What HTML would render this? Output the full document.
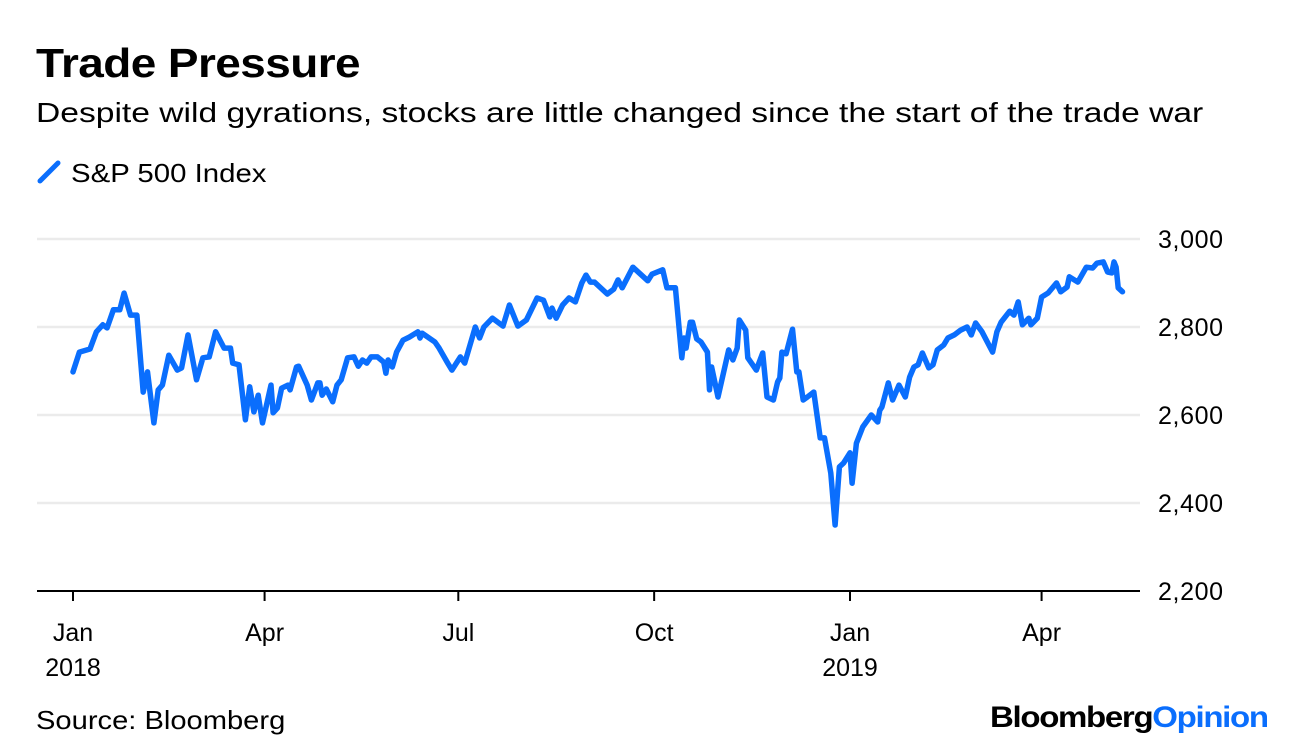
<!DOCTYPE html>
<html><head><meta charset="utf-8">
<style>
html,body{margin:0;padding:0;background:#fff;width:1296px;height:754px;overflow:hidden;font-family:"Liberation Sans",Arial,sans-serif;color:#000}
.t{position:absolute;white-space:nowrap;transform-origin:0 0}
</style></head>
<body>
<div class="t" style="left:36px;top:40px;font-size:41px;font-weight:bold;letter-spacing:-0.5px;transform:scaleX(1.12)">Trade Pressure</div>
<div class="t" style="left:36px;top:97px;font-size:28px;transform:scaleX(1.2)">Despite wild gyrations, stocks are little changed since the start of the trade war</div>
<div class="t" style="left:36px;top:158px;font-size:26px">
<svg width="28" height="26" style="vertical-align:-3px"><line x1="4" y1="22" x2="22" y2="4" stroke="#0a6efd" stroke-width="5" stroke-linecap="round"/></svg> <span style="display:inline-block;transform:scaleX(1.13);transform-origin:0 0">S&amp;P 500 Index</span></div>
<svg id="chart" width="1296" height="754" style="position:absolute;left:0;top:0"></svg>
<div class="t" style="left:36px;top:705px;font-size:26px;transform:scaleX(1.12)">Source: Bloomberg</div>
<div class="t" style="left:990px;top:701px;font-size:30px;font-weight:bold;letter-spacing:-1.2px;transform:scaleX(1.1)">Bloomberg<span style="color:#0a6efd">Opinion</span></div>
<script>
const days=[0,3,8,11,14,16,19,22,24,27,30,33,35,38,40,42,45,49,51,54,58,61,64,67,71,74,75,78,81,83,85,87,89,93,94,96,98,101,102,105,106,110,112,115,116,117,119,122,124,126,129,132,134,136,138,140,143,146,147,148,150,152,155,158,162,163,164,170,172,176,178,182,184,189,191,193,197,202,205,209,213,218,221,224,225,227,230,233,236,239,241,243,245,251,254,256,258,263,270,272,277,279,283,286,287,288,290,291,293,295,298,299,300,303,308,310,312,313,316,317,321,324,326,329,331,332,333,335,338,340,341,343,345,348,351,353,356,358,360,362,365,366,368,371,375,378,379,380,383,385,388,391,393,395,397,399,402,404,406,409,411,414,417,420,422,424,427,432,434,436,440,442,444,446,449,450,453,455,458,462,464,467,468,472,476,479,481,484,486,488,489,490,491,493];
const values=[2698,2743,2750,2789,2805,2798,2839,2839,2877,2827,2827,2652,2698,2582,2657,2668,2736,2702,2707,2782,2680,2730,2732,2789,2752,2752,2718,2714,2589,2664,2607,2645,2582,2668,2605,2616,2661,2668,2657,2709,2711,2668,2634,2673,2673,2645,2659,2630,2668,2680,2730,2732,2711,2725,2718,2732,2732,2720,2695,2725,2709,2743,2770,2777,2789,2775,2786,2766,2752,2718,2702,2732,2718,2800,2775,2800,2820,2802,2850,2802,2816,2866,2861,2823,2843,2820,2850,2866,2857,2900,2918,2902,2902,2875,2886,2907,2889,2936,2905,2920,2930,2889,2889,2730,2775,2752,2811,2811,2773,2766,2743,2657,2709,2641,2748,2725,2752,2816,2793,2730,2702,2741,2641,2634,2675,2684,2743,2739,2795,2698,2698,2634,2641,2652,2548,2548,2468,2350,2482,2491,2514,2445,2536,2573,2600,2584,2611,2618,2673,2634,2668,2641,2686,2709,2714,2741,2707,2714,2748,2759,2775,2782,2793,2800,2782,2809,2789,2743,2789,2811,2836,2827,2857,2805,2820,2805,2820,2868,2877,2900,2880,2891,2914,2902,2936,2934,2945,2948,2925,2923,2948,2936,2889,2880];
const yTicks=[2200,2400,2600,2800,3000];
const yTickLabels=["2,200","2,400","2,600","2,800","3,000"];
const xTickDays=[0,90,181,273,365,455];
const xTickLabels=["Jan","Apr","Jul","Oct","Jan","Apr"];
const xYearLabels=["2018","","","","2019",""];

const NS="http://www.w3.org/2000/svg";
const svg=document.getElementById('chart');
const X=d=>73+d*777/365;
const Y=v=>591-(v-2200)*88/200;
function mk(tag,attrs){const e=document.createElementNS(NS,tag);for(const k in attrs)e.setAttribute(k,attrs[k]);svg.appendChild(e);return e;}

yTicks.forEach((v,i)=>{
  if(v>2200){
    const g=mk('line',{x1:37,x2:1140,y1:Y(v),y2:Y(v),stroke:'#ebebeb','stroke-width':2.5});
    
    
  }
  const t=mk('text',{x:1158,y:Y(v)+9,'font-size':25,'font-family':'Liberation Sans, sans-serif',fill:'#000','textLength':65});
  t.textContent=yTickLabels[i];
  
  
});
const ax=mk('line',{x1:37,x2:1140,y1:591,y2:591,stroke:'#000','stroke-width':2});


xTickDays.forEach((d,i)=>{
  const tk=mk('line',{x1:X(d),x2:X(d),y1:591,y2:601,stroke:'#000','stroke-width':2});
  
  
  const t=mk('text',{x:X(d),y:641,'text-anchor':'middle','font-size':25,'font-family':'Liberation Sans, sans-serif'});
  t.textContent=xTickLabels[i];
  
  
  if(xYearLabels[i]){
    const y=mk('text',{x:X(d),y:676,'text-anchor':'middle','font-size':25,'font-family':'Liberation Sans, sans-serif'});
    y.textContent=xYearLabels[i];
    
    
  }
});
const pts=days.map((d,i)=>X(d).toFixed(1)+','+Y(values[i]).toFixed(1)).join(' ');
const line=mk('polyline',{points:pts,fill:'none',stroke:'#0a6efd','stroke-width':5.5,'stroke-linejoin':'round','stroke-linecap':'round'});


</script>
</body></html>
